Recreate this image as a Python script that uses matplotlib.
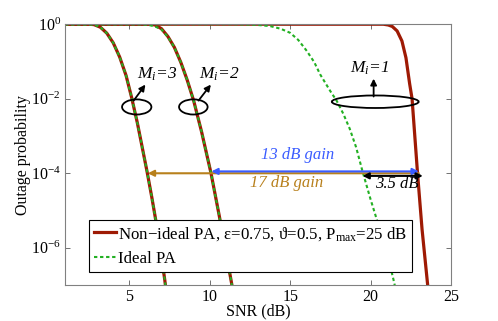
import numpy as np
import matplotlib
matplotlib.use("Agg")
import matplotlib.pyplot as plt
from matplotlib.patches import Ellipse

plt.rcParams['font.family'] = ['Liberation Serif', 'DejaVu Serif']
plt.rcParams['mathtext.fontset'] = 'custom'
plt.rcParams['mathtext.rm'] = 'Liberation Serif'
plt.rcParams['mathtext.it'] = 'Liberation Serif:italic'
plt.rcParams['mathtext.bf'] = 'Liberation Serif:bold'

# ---- data (SNR in dB, log10 of outage probability) ----
snr_m3 = [1, 2.5, 2.8, 3.2, 3.6, 4.0, 4.4, 4.8, 5.15, 5.5, 5.8, 6.1, 6.4, 6.7, 7.0, 7.2, 7.3]
logp_m3 = [0, 0, -0.01, -0.08, -0.24, -0.5, -0.88, -1.38, -1.98, -2.65, -3.3, -3.95, -4.65, -5.4, -6.25, -6.85, -7.2]

snr_m2 = [1, 6.3, 6.6, 7.0, 7.4, 7.8, 8.2, 8.6, 9.0, 9.5, 10.08, 10.6, 11.0, 11.4, 11.5]
logp_m2 = [0, 0, -0.02, -0.12, -0.33, -0.62, -1.02, -1.5, -2.05, -2.9, -4.0, -5.16, -6.1, -7.05, -7.3]

snr_m2_ideal = [1, 5.8, 6.2, 6.6, 7.0, 7.4, 7.8, 8.2, 8.6, 9.0, 9.5, 10.08, 10.6, 11.0, 11.4, 11.5]
logp_m2_ideal = [0, 0, -0.02, -0.06, -0.14, -0.34, -0.62, -1.02, -1.5, -2.05, -2.9, -4.0, -5.16, -6.1, -7.05, -7.3]

snr_m1_nonideal = [1, 20.8, 21.1, 21.35, 21.65, 21.95, 22.2, 22.43, 22.58, 22.75, 22.92, 23.2, 23.55, 23.6]
logp_m1_nonideal = [0, 0, -0.02, -0.06, -0.18, -0.45, -0.9, -1.6, -2.0, -3.0, -4.0, -5.5, -7.0, -7.2]

snr_m1_ideal = [1, 11.5, 12.5, 13.0, 13.76, 14.4, 15.0, 15.5, 16.04, 16.5, 16.87, 17.49, 17.9,
                18.3, 18.7, 19.1, 19.5, 20.0, 20.5, 21.0, 21.45, 21.6]
logp_m1_ideal = [0, 0, -0.01, -0.02, -0.05, -0.12, -0.23, -0.42, -0.72, -1.02, -1.35, -1.79, -2.06,
                 -2.4, -2.8, -3.3, -3.95, -4.7, -5.4, -6.1, -6.9, -7.2]

xticks = [5, 10, 15, 20, 25]
yticks_exp = [0, -2, -4, -6]

red = '#9e1a04'
green = '#22b022'
blue = '#3a5cff'
brown = '#b8801c'

fig = plt.figure(figsize=(4.98, 3.21), dpi=100)
ax = fig.add_axes([0.1305, 0.112, 0.7751, 0.8125])
ax.set_yscale('log')

def P(v):
    return np.power(10.0, np.asarray(v, dtype=float))

lw_r = 2.3
lw_g = 1.5
dash = (0, (1.6, 1.3))

ax.plot(snr_m1_nonideal, P(logp_m1_nonideal), color=red, lw=lw_r,
        label=r'Non$-$ideal PA, ε=0.75, ϑ=0.5, P$_{\mathrm{max}}$=25 dB')
ax.plot(snr_m2, P(logp_m2), color=red, lw=lw_r)
ax.plot(snr_m3, P(logp_m3), color=red, lw=lw_r)
ax.plot(snr_m1_ideal, P(logp_m1_ideal), color=green, lw=lw_g, ls=dash, label='Ideal PA')
ax.plot(snr_m2_ideal, P(logp_m2_ideal), color=green, lw=lw_g, ls=dash)
ax.plot(snr_m3, P(logp_m3), color=green, lw=lw_g, ls=dash)

ax.set_xlim(1, 25)
ax.set_ylim(1e-7, 1)
ax.set_xticks(xticks)
ax.set_xticklabels([str(t) for t in xticks])
ax.set_yticks([10.0 ** e for e in yticks_exp])
ax.set_yticklabels([r'$10^{%d}$' % e if e == 0 else r'$10^{-%d}$' % (-e) for e in yticks_exp])
ax.yaxis.set_minor_locator(matplotlib.ticker.NullLocator())
ax.tick_params(direction='in', length=3.5, width=0.7, color='#707070', labelsize=11.5,
               top=True, right=True, pad=3)
for s in ax.spines.values():
    s.set_color('#808080')
    s.set_linewidth(0.8)

ax.set_xlabel('SNR (dB)', fontsize=11.5, labelpad=-1)
ax.set_ylabel('Outage probability', fontsize=11.5, labelpad=0)

# ellipses (axes fraction coordinates)
def fx(x):
    return (x - 1) / 24.0

def fy(lg):
    return (lg + 7) / 7.0

for cx, cy, w, h in [(5.46, -2.22, 0.076, 0.058), (8.98, -2.22, 0.074, 0.058), (20.29, -2.08, 0.225, 0.048)]:
    ax.add_patch(Ellipse((fx(cx), fy(cy)), w, h, transform=ax.transAxes, fill=False,
                         ec='black', lw=1.3, zorder=5))

ap = dict(arrowstyle='-|>', color='black', lw=1.3, mutation_scale=9, shrinkA=0, shrinkB=0)
ax.annotate('', xy=(6.0, P(-1.62)), xytext=(5.27, P(-2.05)), arrowprops=ap, zorder=6)
ax.annotate('', xy=(10.07, P(-1.62)), xytext=(9.3, P(-2.05)), arrowprops=ap, zorder=6)
ax.annotate('', xy=(20.19, P(-1.46)), xytext=(20.19, P(-1.94)), arrowprops=ap, zorder=6)

tkw = dict(fontsize=12.5, style='italic', ha='left', va='baseline')
ax.text(5.45, P(-1.46), r'$M_i$=3', **tkw)
ax.text(9.35, P(-1.46), r'$M_i$=2', **tkw)
ax.text(18.7, P(-1.31), r'$M_i$=1', **tkw)

# gain arrows
ax.annotate('', xy=(6.15, P(-4.0)), xytext=(23.0, P(-4.0)),
            arrowprops=dict(arrowstyle='-|>', color=brown, lw=1.5, mutation_scale=9,
                            shrinkA=0, shrinkB=0), zorder=4)
ax.annotate('', xy=(10.1, P(-3.95)), xytext=(23.0, P(-3.95)),
            arrowprops=dict(arrowstyle='<|-|>', color=blue, lw=1.5, mutation_scale=9,
                            shrinkA=0, shrinkB=0), zorder=4)
ax.annotate('', xy=(19.5, P(-4.07)), xytext=(23.25, P(-4.07)),
            arrowprops=dict(arrowstyle='<|-|>', color='black', lw=1.5, mutation_scale=9,
                            shrinkA=0, shrinkB=0), zorder=6)
ax.text(15.45, P(-3.5), '13 dB gain', color=blue, fontsize=12, style='italic',
        ha='center', va='center')
ax.text(14.75, P(-4.27), '17 dB gain', color=brown, fontsize=12, style='italic',
        ha='center', va='center')
ax.text(21.6, P(-4.28), '3.5 dB', color='black', fontsize=12, style='italic',
        ha='center', va='center')

leg = ax.legend(loc='lower left', bbox_to_anchor=(0.063, 0.049), borderaxespad=0,
                fontsize=12.2, handlelength=1.3, handletextpad=0.1, labelspacing=0.5,
                borderpad=0.3, fancybox=False, framealpha=1, edgecolor='black')
leg.get_frame().set_linewidth(0.8)
leg.set_zorder(3)

fig.savefig('out.png', dpi=100)
